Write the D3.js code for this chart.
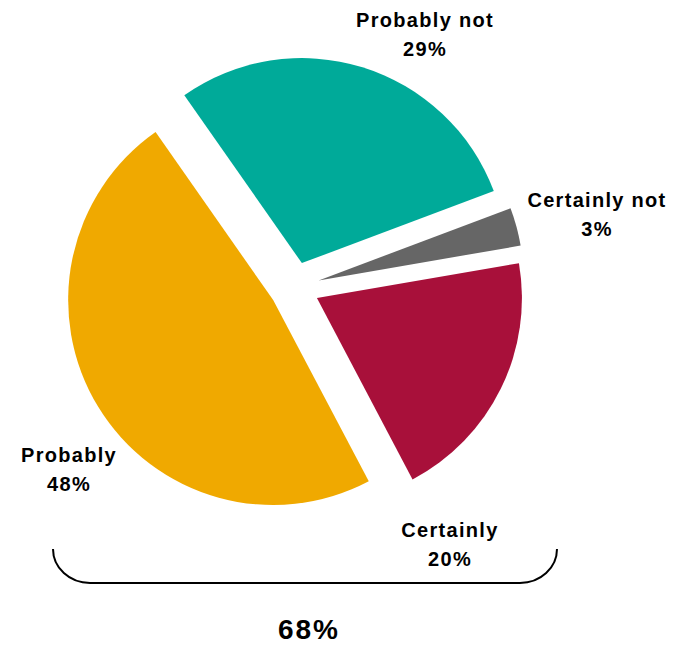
<!DOCTYPE html>
<html>
<head>
<meta charset="utf-8">
<script src="https://cdn.jsdelivr.net/npm/d3@7/dist/d3.min.js"></script>
<style>
  html, body { margin: 0; padding: 0; background: #fff; }
  svg { display: block; }
  text { font-family: "Liberation Sans", Arial, sans-serif; font-weight: bold; fill: #000; }
</style>
</head>
<body>
<svg id="chart" width="684" height="648"></svg>
<script>
// Data (clockwise order from the top-left)
const categories = ["Probably not", "Certainly not", "Certainly", "Probably"];
const values = [29, 3, 20, 48];
const valueLabels = ["29%", "3%", "20%", "48%"];
const colors = ["#00AA99", "#666666", "#A8103A", "#F0A900"];
const totalLabel = "68%";

const svg = d3.select("#chart");
const cx = 294.5, cy = 287, radius = 205, explode = 25;
const startDeg = -35;

const pie = d3.pie()
  .sort(null)
  .value(d => d.value)
  .startAngle(startDeg * Math.PI / 180)
  .endAngle((startDeg + 360) * Math.PI / 180);

const data = categories.map((c, i) => ({ cat: c, value: values[i], label: valueLabels[i], color: colors[i] }));
const arcs = pie(data);
const arc = d3.arc().innerRadius(0).outerRadius(radius);

const g = svg.append("g").attr("transform", `translate(${cx},${cy})`);
g.selectAll("path")
  .data(arcs)
  .join("path")
  .attr("d", arc)
  .attr("fill", d => d.data.color)
  .attr("transform", d => {
    const a = (d.startAngle + d.endAngle) / 2;
    return `translate(${explode * Math.sin(a)},${-explode * Math.cos(a)})`;
  });

// Label layout (label centres / first baseline)
const labelPos = [
  { x: 425, y: 27 },
  { x: 597, y: 207 },
  { x: 450, y: 537 },
  { x: 69, y: 462 }
];
const lineGap = 29;
arcs.forEach((d, i) => {
  const t = svg.append("text")
    .attr("text-anchor", "middle")
    .attr("font-size", 20)
    .attr("letter-spacing", "1.3px")
    .attr("x", labelPos[i].x)
    .attr("y", labelPos[i].y);
  t.append("tspan").attr("x", labelPos[i].x).text(d.data.cat);
  t.append("tspan").attr("x", labelPos[i].x).attr("dy", lineGap).text(d.data.label);
});

// Bracket grouping "Certainly" + "Probably"
svg.append("path")
  .attr("d", "M53,549 A37,34 0 0 0 90,583 L520,583 A37,34 0 0 0 557,549")
  .attr("fill", "none")
  .attr("stroke", "#000")
  .attr("stroke-width", 2);

svg.append("text")
  .attr("text-anchor", "middle")
  .attr("font-size", 28)
  .attr("letter-spacing", "2px")
  .attr("x", 309)
  .attr("y", 639)
  .text(totalLabel);
</script>
</body>
</html>
